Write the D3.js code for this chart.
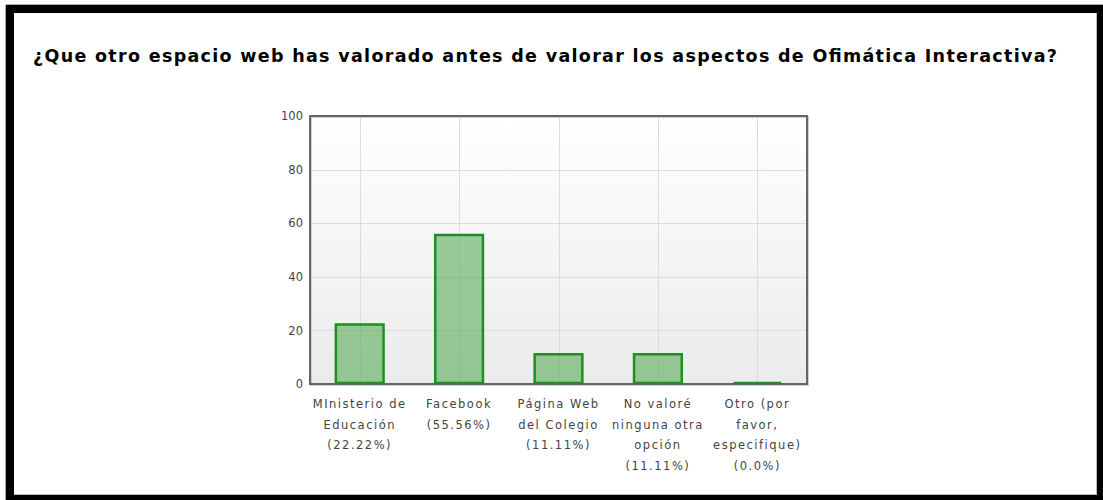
<!DOCTYPE html>
<html>
<head>
<meta charset="utf-8">
<script src="https://cdn.jsdelivr.net/npm/d3@7"></script>
<style>
  body { margin: 0; background: #fff; }
  text { font-family: "DejaVu Sans", Verdana, sans-serif; }
</style>
</head>
<body>
<div id="chart"></div>
<script>
// Data.
let titleText = "¿Que otro espacio web has valorado antes de valorar los aspectos de Ofimática Interactiva?";
let categories = ["Ministerio", "Facebook", "Pagina", "Ninguna", "Otro"];
let values = [22.22, 55.56, 11.11, 11.11, 0];
let labelLines = [
  ["MInisterio de", "Educación", "(22.22%)"],
  ["Facebook", "(55.56%)"],
  ["Página Web", "del Colegio", "(11.11%)"],
  ["No valoré", "ninguna otra", "opción", "(11.11%)"],
  ["Otro (por", "favor,", "especifique)", "(0.0%)"]
];
let yTicks = [0, 20, 40, 60, 80, 100];

let W = 1103, H = 500;
let plot = { left: 310, right: 807, top: 116, bottom: 384 };

let svg = d3.select("#chart")
  .append("svg")
  .attr("width", W)
  .attr("height", H);

// outer frame
svg.append("rect")
  .attr("x", 0).attr("y", 0).attr("width", W).attr("height", H).attr("fill", "#000");
svg.append("rect")
  .attr("x", 0).attr("y", 0).attr("width", W).attr("height", 5).attr("fill", "#fff");
svg.append("rect")
  .attr("x", 0).attr("y", 0).attr("width", 6).attr("height", H).attr("fill", "#fff");
svg.append("line")
  .attr("x1", 6).attr("x2", W).attr("y1", 4.5).attr("y2", 4.5).attr("stroke", "#aaa");
svg.append("line")
  .attr("x1", 5.5).attr("x2", 5.5).attr("y1", 5).attr("y2", H).attr("stroke", "#aaa");
svg.append("rect")
  .attr("x", 14).attr("y", 13).attr("width", 1083).attr("height", 482)
  .attr("fill", "#fff");
svg.append("line")
  .attr("x1", 14).attr("x2", 1097).attr("y1", 494.5).attr("y2", 494.5).attr("stroke", "#bbb");
svg.append("line")
  .attr("x1", 1096.5).attr("x2", 1096.5).attr("y1", 13).attr("y2", 495).attr("stroke", "#bbb");

// title
svg.append("text")
  .attr("x", 33)
  .attr("y", 62)
  .attr("textLength", 1024)
  .attr("lengthAdjust", "spacing")
  .style("font-family", "'DejaVu Sans', Verdana, sans-serif")
  .style("font-weight", "bold")
  .style("font-size", "17.5px")
  .attr("fill", "#000")
  .text(titleText);

// Scales
let x = d3.scaleBand()
  .domain(categories)
  .range([plot.left, plot.right])
  .paddingInner(0.5)
  .paddingOuter(0.25);

let y = d3.scaleLinear()
  .domain([0, 100])
  .range([plot.bottom, plot.top]);

// background gradient
let defs = svg.append("defs");
let grad = defs.append("linearGradient")
  .attr("id", "bg").attr("x1", 0).attr("y1", 0).attr("x2", 0).attr("y2", 1);
grad.append("stop").attr("offset", "0%").attr("stop-color", "#ffffff");
grad.append("stop").attr("offset", "100%").attr("stop-color", "#ebebeb");

svg.append("rect")
  .attr("x", plot.left).attr("y", plot.top)
  .attr("width", plot.right - plot.left).attr("height", plot.bottom - plot.top)
  .attr("fill", "url(#bg)");

// grid lines
svg.append("g")
  .selectAll("line")
  .data(yTicks.slice(1, -1))
  .join("line")
    .attr("x1", plot.left).attr("x2", plot.right)
    .attr("y1", d => Math.round(y(d)) + 0.5)
    .attr("y2", d => Math.round(y(d)) + 0.5)
    .attr("stroke", "#dcdcdc");

svg.append("g")
  .selectAll("line")
  .data(categories)
  .join("line")
    .attr("x1", d => Math.round(x(d) + x.bandwidth() / 2) + 0.5)
    .attr("x2", d => Math.round(x(d) + x.bandwidth() / 2) + 0.5)
    .attr("y1", plot.top).attr("y2", plot.bottom)
    .attr("stroke", "#dcdcdc");

// frame shadow + frame
svg.append("rect")
  .attr("x", plot.left + 1).attr("y", plot.top + 1)
  .attr("width", plot.right - plot.left).attr("height", plot.bottom - plot.top)
  .attr("fill", "none").attr("stroke", "#ccc").attr("stroke-width", 2);
svg.append("rect")
  .attr("x", plot.left).attr("y", plot.top)
  .attr("width", plot.right - plot.left).attr("height", plot.bottom - plot.top)
  .attr("fill", "none").attr("stroke", "#666").attr("stroke-width", 2);

// bars (paths so a zero value still shows its green edge)
svg.append("g")
  .selectAll("path")
  .data(values)
  .join("path")
    .attr("d", (d, i) => {
      let x0 = x(categories[i]) + 1, x1 = x(categories[i]) + x.bandwidth() - 1;
      let y0 = y(0) - 1, y1 = Math.min(y(d), y0);
      return "M" + x0 + "," + y0 + "V" + y1 + "H" + x1 + "V" + y0 + "Z";
    })
    .attr("fill", "rgba(60,160,60,0.5)")
    .attr("stroke", "#1f8f1f")
    .attr("stroke-width", 2.5);

// y-axis labels
let yAxis = d3.axisLeft(y)
  .tickValues(yTicks)
  .tickSize(0)
  .tickPadding(7);

let yAxisEl = svg.append("g")
  .attr("transform", "translate(" + plot.left + ",0)")
  .call(yAxis);
yAxisEl.select(".domain").remove();
yAxisEl.selectAll("text")
  .style("font-family", "'DejaVu Sans', Verdana, sans-serif")
  .style("font-size", "11.5px")
  .attr("fill", "#444");

// x-axis labels, multi-line
let xl = svg.append("g")
  .selectAll("text")
  .data(labelLines)
  .join("text")
    .attr("x", (d, i) => x(categories[i]) + x.bandwidth() / 2)
    .attr("y", 408)
    .attr("text-anchor", "middle")
    .style("font-size", "11.5px")
    .style("letter-spacing", "1.5px")
    .attr("fill", "#444");

xl.selectAll("tspan")
  .data(d => d)
  .join("tspan")
    .attr("x", function() { return this.parentNode.getAttribute("x"); })
    .attr("dy", (d, i) => i === 0 ? 0 : 20.5)
    .text(d => d);
</script>
</body>
</html>
